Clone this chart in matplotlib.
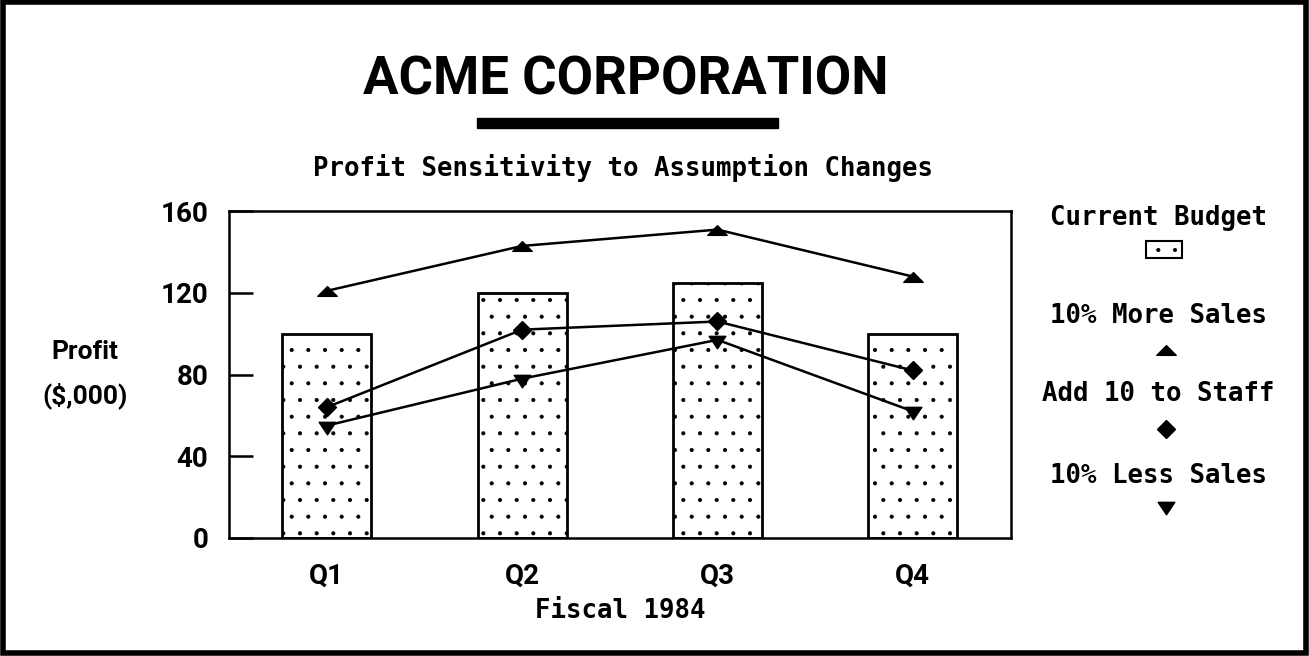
import matplotlib.pyplot as plt
from matplotlib.patches import Rectangle
from matplotlib.lines import Line2D
from matplotlib.path import Path

# data
quarters = ['Q1', 'Q2', 'Q3', 'Q4']
current_budget = [100, 120, 125, 100]
more_sales = [121, 143, 151, 128]
add_staff = [64, 102, 106, 82]
less_sales = [55, 78, 97, 62]
y_ticks = [0, 40, 80, 120, 160]
legend_labels = ['Current Budget', '10% More Sales', 'Add 10 to Staff', '10% Less Sales']

narrow = ['Roboto', 'DejaVu Sans']
mono = 'DejaVu Sans Mono'

# flat triangles like the old plotter symbols
tri_up = Path([(-1, -0.5), (1, -0.5), (0, 0.5), (-1, -0.5)], closed=True)
tri_down = Path([(-1, 0.5), (1, 0.5), (0, -1), (-1, 0.5)], closed=True)

plt.rcParams['hatch.linewidth'] = 0.5

fig = plt.figure(figsize=(13.09, 6.56), dpi=100)
ax = fig.add_axes([0.175, 0.180, 0.597, 0.498])

x = range(len(quarters))
ax.bar(x, current_budget, width=0.455, color='white', edgecolor='black',
       linewidth=2.0, hatch='.', zorder=1)

ax.plot(x, more_sales, color='black', lw=1.8, marker=tri_up, ms=14, zorder=3)
ax.plot(x, add_staff, color='black', lw=1.8, marker='D', ms=9, zorder=3)
ax.plot(x, less_sales, color='black', lw=1.8, marker=tri_down, ms=12, zorder=3)

ax.set_xlim(-0.5, 3.5)
ax.set_ylim(0, 160)
ax.set_yticks(y_ticks)
ax.set_xticks(list(x))
ax.set_xticklabels(quarters)
for s in ax.spines.values():
    s.set_linewidth(1.8)
ax.tick_params(axis='y', direction='in', length=17, width=1.8, pad=15)
ax.tick_params(axis='x', length=0, pad=18)
for lab in ax.get_yticklabels() + ax.get_xticklabels():
    lab.set_family(narrow)
    lab.set_fontweight('bold')
    lab.set_fontsize(20)

ax.set_xlabel('Fiscal 1984', family=mono, fontweight='bold', fontsize=18.5, labelpad=6)

# y label as two horizontal lines
fig.text(0.065, 1 - 352 / 656, 'Profit', ha='center', va='center',
         family=narrow, fontsize=19, fontweight='bold')
fig.text(0.065, 1 - 396 / 656, '($,000)', ha='center', va='center',
         family=narrow, fontsize=19, fontweight='bold')

# titles
fig.text(0.478, 1 - 80 / 656, 'ACME CORPORATION', ha='center', va='center',
         family=narrow, fontweight='bold', fontsize=38)
fig.add_artist(Rectangle((477 / 1309, 1 - 128 / 656), 301 / 1309, 10 / 656,
                         transform=fig.transFigure, color='black'))
fig.text(0.476, 1 - 168 / 656, 'Profit Sensitivity to Assumption Changes',
         ha='center', va='center', family=mono, fontweight='bold', fontsize=18.5)

# legend stacked on the right: label then symbol
lx = 1158 / 1309
mx = 1166 / 1309
text_y = [218, 316, 394, 476]
for lab, ty in zip(legend_labels, text_y):
    fig.text(lx, 1 - ty / 656, lab, ha='center', va='center',
             family=mono, fontweight='bold', fontsize=18.5)
fig.add_artist(Rectangle((1146 / 1309, 1 - 258 / 656), 36 / 1309, 17 / 656,
                         transform=fig.transFigure, facecolor='white',
                         edgecolor='black', lw=1.5, hatch='.'))
for yy, mk, ms in [(350, tri_up, 14), (429, 'D', 9), (506, tri_down, 12)]:
    fig.add_artist(Line2D([mx], [1 - yy / 656], marker=mk, ms=ms, color='black',
                          transform=fig.transFigure))

# heavy frame around the whole picture
fig.add_artist(Rectangle((0.002, 0.004), 0.996, 0.993, transform=fig.transFigure,
                         fill=False, edgecolor='black', lw=4))

fig.savefig('out.png', dpi=100)
